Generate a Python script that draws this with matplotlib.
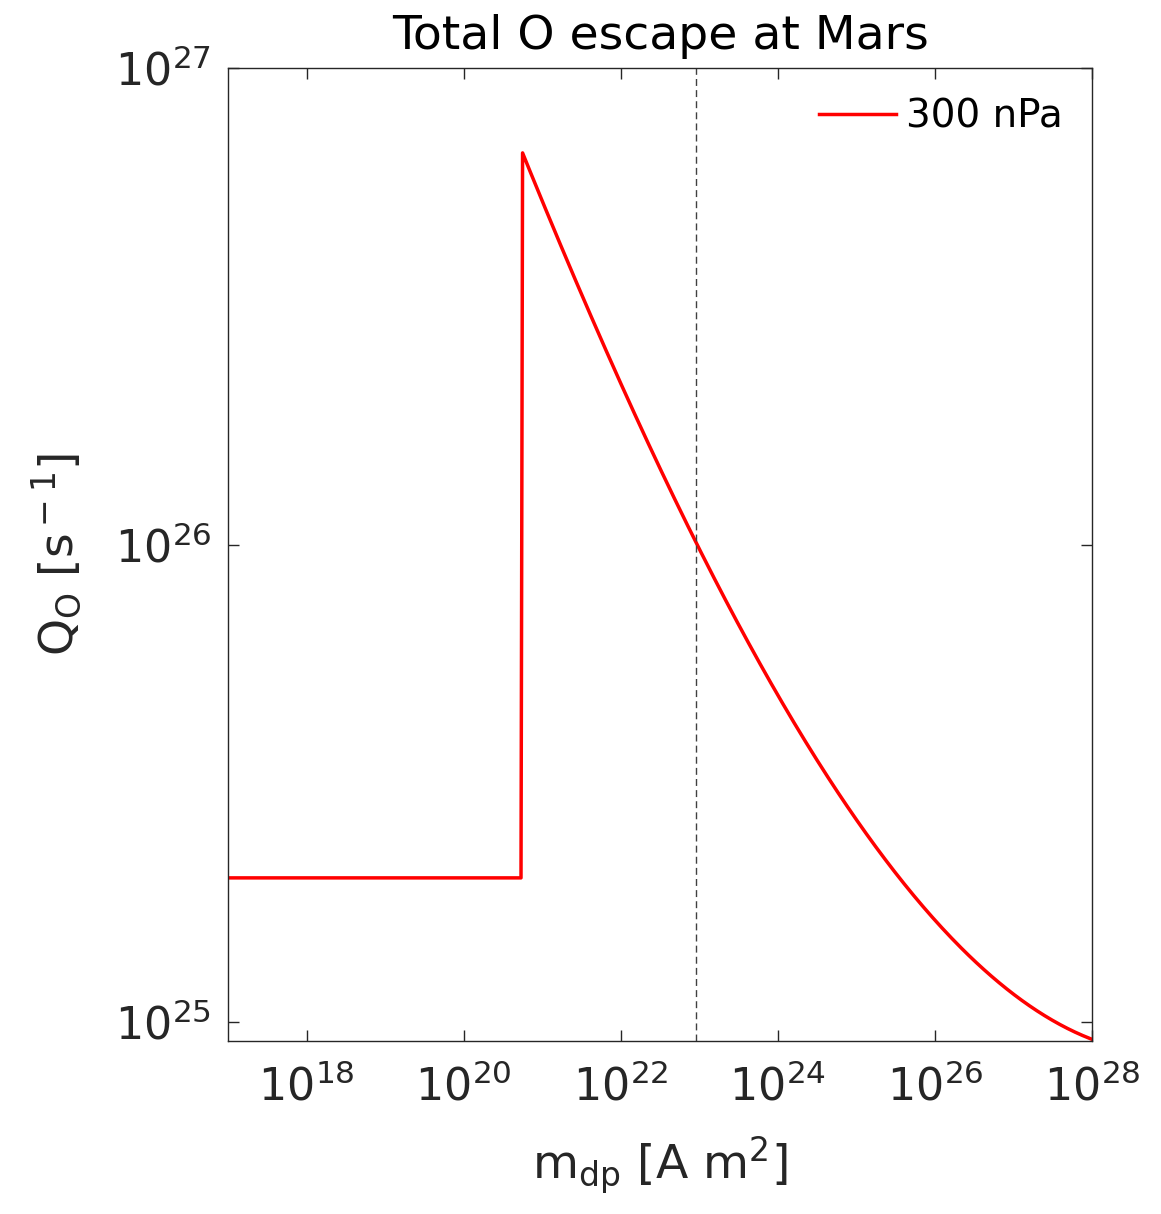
import numpy as np
import matplotlib.pyplot as plt

# (log10 of magnetic moment and O escape rate)
log_mdp = [17.0, 20.73, 20.75, 20.777, 21.478, 22.917, 23.643, 24.064,
           24.917, 25.936, 27.045, 28.0]
log_Q = [25.302, 25.302, 26.822, 26.822, 26.514, 26.025, 25.795, 25.675,
         25.438, 25.214, 25.061, 24.962]
mars_mdp = 9.0e22
label = "300 nPa"

mdp = 10 ** np.array(log_mdp)
Q = 10 ** np.array(log_Q)

# smooth the decaying branch in log space for a clean curve
xs = np.array(log_mdp[3:])
ys = np.array(log_Q[3:])
coef = np.polyfit(xs, ys, 3)
xx = np.linspace(xs[0], xs[-1], 300)
yy = np.polyval(coef, xx)
x_plot = np.concatenate([mdp[:3], 10 ** xx])
y_plot = np.concatenate([Q[:3], 10 ** yy])

plt.rcParams['font.family'] = 'DejaVu Sans'
plt.rcParams['mathtext.fontset'] = 'dejavusans'

grey = '#262626'
fig = plt.figure(figsize=(11.61, 12.14), dpi=100)
ax = fig.add_axes([0.1964, 0.1425, 0.7442, 0.8015])

ax.plot(x_plot, y_plot, color='red', lw=2.5, label=label)
ax.axvline(mars_mdp, color='#404040', lw=1, ls=(0, (5, 3)))

ax.set_xscale('log')
ax.set_yscale('log')
ax.set_xlim(1e17, 1e28)
ax.set_ylim(10 ** 24.96, 1e27)
ax.set_xticks([1e18, 1e20, 1e22, 1e24, 1e26, 1e28])
ax.set_yticks([1e25, 1e26, 1e27])
ax.minorticks_off()

ax.tick_params(which='both', direction='in', top=True, right=True,
               length=8, width=1, color=grey, labelcolor=grey, labelsize=32)
ax.tick_params(axis='x', pad=17)
ax.tick_params(axis='y', pad=12)
for s in ax.spines.values():
    s.set_color(grey)
    s.set_linewidth(1)

ax.set_title('Total O escape at Mars', fontsize=34, color='black', pad=14)
ax.set_xlabel(r'm$_{\rm dp}$ [A m$^2$]', fontsize=34, color=grey, labelpad=18)
ax.set_ylabel(r'Q$_{\rm O}$ [s$^{\rm -1}$]', fontsize=34, color=grey, labelpad=22)

leg = ax.legend(loc='upper right', frameon=False, fontsize=28,
                handlelength=2.0, handletextpad=0.25, borderaxespad=0.35)
for t in leg.get_texts():
    t.set_color('black')

fig.savefig('out.png', dpi=100)
